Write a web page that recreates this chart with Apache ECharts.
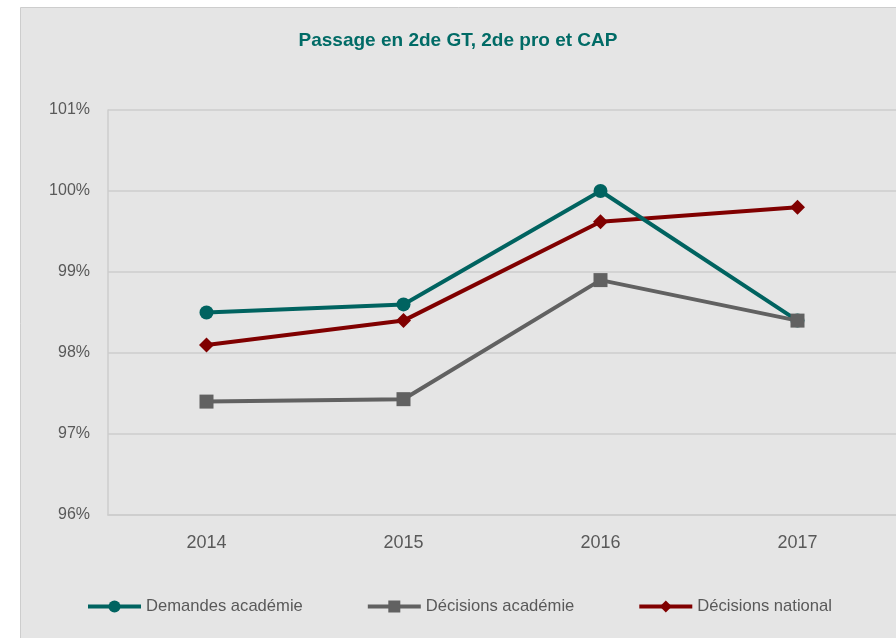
<!DOCTYPE html>
<html>
<head>
<meta charset="utf-8">
<script src="https://cdn.jsdelivr.net/npm/echarts@6/dist/echarts.min.js"></script>
<style>
  html, body { margin: 0; padding: 0; background: #ffffff; }
  #main { width: 896px; height: 638px; }
</style>
</head>
<body>
<div id="main"></div>
<script>
// données
var years = ['2014', '2015', '2016', '2017'];
var demandesAcademie = [98.5, 98.6, 100.0, 98.4];
var decisionsAcademie = [97.4, 97.43, 98.9, 98.4];
var decisionsNational = [98.1, 98.4, 99.62, 99.8];

var chart = echarts.init(document.getElementById('main'));
var font = 'Liberation Sans, Arial, sans-serif';

chart.setOption({
  backgroundColor: '#ffffff',
  animation: false,
  graphic: [{
    type: 'rect',
    z: -10,
    shape: { x: 20.5, y: 7.5, width: 900, height: 660 },
    style: { fill: '#e5e5e5', stroke: '#cdcdcd', lineWidth: 1 }
  }],
  title: {
    text: 'Passage en 2de GT, 2de pro et CAP',
    left: 458,
    textAlign: 'center',
    top: 31,
    padding: 0,
    textStyle: { color: '#006b66', fontSize: 19, fontWeight: 'bold', fontFamily: font }
  },
  legend: {
    left: 86,
    top: 598,
    padding: 0,
    itemWidth: 53,
    itemHeight: 15,
    itemGap: 63,
    itemTextGap: 4,
    textStyle: { color: '#595959', fontSize: 16.6, fontFamily: font },
    lineStyle: { width: 4 },
    data: ['Demandes académie', 'Décisions académie', 'Décisions national']
  },
  grid: { left: 108, right: 0, top: 110, bottom: 123 },
  xAxis: {
    type: 'category',
    data: years,
    boundaryGap: true,
    axisLine: { lineStyle: { color: '#cdcdcd', width: 1.5 } },
    axisTick: { show: false },
    axisLabel: { color: '#595959', fontSize: 18, margin: 19, fontFamily: font }
  },
  yAxis: {
    type: 'value',
    min: 96,
    max: 101,
    interval: 1,
    axisLine: { show: true, lineStyle: { color: '#cdcdcd', width: 1.5 } },
    axisTick: { show: false },
    axisLabel: { color: '#595959', fontSize: 16, margin: 18, fontFamily: font, formatter: '{value}%' },
    splitLine: { lineStyle: { color: '#cdcdcd', width: 1.5 } }
  },
  series: [{
    name: 'Demandes académie',
    type: 'line',
    data: demandesAcademie,
    symbol: 'circle',
    symbolSize: 14,
    z: 3,
    itemStyle: { color: '#006360' },
    lineStyle: { color: '#006360', width: 4 }
  }, {
    name: 'Décisions académie',
    type: 'line',
    data: decisionsAcademie,
    symbol: 'rect',
    symbolSize: 14,
    z: 4,
    itemStyle: { color: '#616161' },
    lineStyle: { color: '#616161', width: 4 }
  }, {
    name: 'Décisions national',
    type: 'line',
    data: decisionsNational,
    symbol: 'diamond',
    symbolSize: 15,
    z: 2,
    itemStyle: { color: '#800000' },
    lineStyle: { color: '#800000', width: 4 }
  }]
});
</script>
</body>
</html>
